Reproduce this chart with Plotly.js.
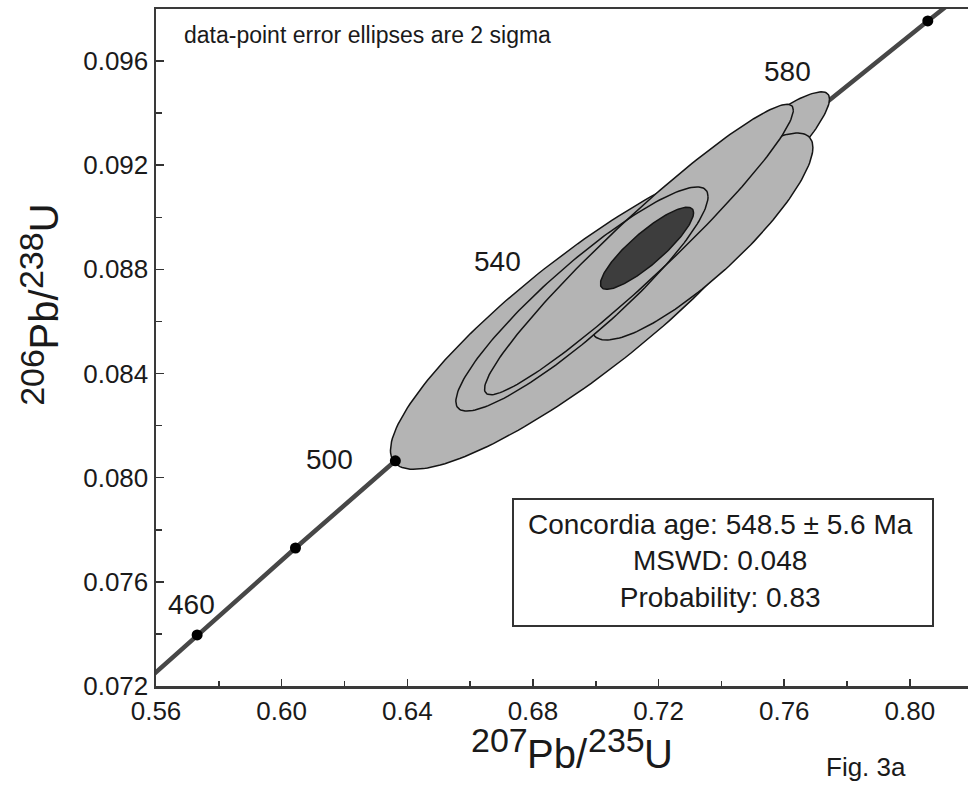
<!DOCTYPE html>
<html>
<head>
<meta charset="utf-8">
<script src="https://cdn.plot.ly/plotly-3.0.1.min.js"></script>
<style>
  html, body { margin: 0; padding: 0; background: #ffffff; }
  #chart { width: 968px; height: 795px; }
</style>
</head>
<body>
<div id="chart"></div>
<script>
// Concordia curve: ages (Ma) and the matching 207Pb/235U and 206Pb/238U ratios
const concAge = [440, 460, 480, 500, 520, 540, 560, 580, 600, 620];
const conc207 = [0.5424, 0.5731, 0.6044, 0.6362, 0.6688, 0.7020, 0.7358, 0.7705, 0.8057, 0.8416];
const conc206 = [0.07064, 0.07396, 0.07730, 0.08065, 0.08401, 0.08738, 0.09075, 0.09414, 0.09754, 0.10096];
const dotAges = [460, 480, 500, 600];
const labelAges = [460, 500, 540, 580];

// Zircon analyses: ratio, 2-sigma error and error correlation (drawing order)
const spot207    = [0.73761, 0.69639, 0.73379, 0.69560, 0.71374];
const spot207Err = [0.03680, 0.06175, 0.03533, 0.04014, 0.04915];
const spot206    = [0.090779, 0.086305, 0.089262, 0.086862, 0.088763];
const spot206Err = [0.004040, 0.005983, 0.003975, 0.004305, 0.005576];
const spotRho    = [0.931, 0.878, 0.860, 0.913, 0.960];

// Concordia age ellipse
const age207 = 0.71632, age207Err = 0.01483;
const age206 = 0.088811, age206Err = 0.001578;
const ageRho = 0.865;
const ageMa = 548.5, ageErrMa = 5.6, mswd = 0.048, probability = 0.83;

// Axis ticks
const xTickVals = [0.56, 0.60, 0.64, 0.68, 0.72, 0.76, 0.80];
const xTickText = ['0.56', '0.60', '0.64', '0.68', '0.72', '0.76', '0.80'];
const yTickVals = [0.072, 0.076, 0.080, 0.084, 0.088, 0.092, 0.096];
const yTickText = ['0.072', '0.076', '0.080', '0.084', '0.088', '0.092', '0.096'];

// Axis title pieces: isotope mass numbers are raised and a little smaller
const xTitleParts = ['207', 'Pb/', '235', 'U'];
const yTitleParts = ['206', 'Pb/', '238', 'U'];

const FONT = 'Liberation Sans, Arial, Helvetica, sans-serif';
const INK = '#1a1a1a';
const GRAY = '#b4b4b4';
const EDGE = '#141414';

// plot area in pixels, used to place the paper-anchored texts
const L = 156, T = 9, W = 812, H = 677;
const px = v => (v - L) / W;
const py = v => (T + H - v) / H;

function ellipsePts(x, sx, y, sy, r, n) {
  const xs = [], ys = [];
  const q = Math.sqrt(1 - r * r);
  for (let i = 0; i <= n; i++) {
    const t = 2 * Math.PI * i / n;
    xs.push(x + sx * Math.cos(t));
    ys.push(y + sy * (r * Math.cos(t) + q * Math.sin(t)));
  }
  return { xs, ys };
}

function ellTrace(i, withFill, withLine) {
  const e = ellipsePts(spot207[i], spot207Err[i], spot206[i], spot206Err[i], spotRho[i], 180);
  return {
    x: e.xs, y: e.ys, type: 'scatter', mode: 'lines',
    fill: withFill ? 'toself' : 'none',
    fillcolor: GRAY,
    line: { color: withLine ? EDGE : 'rgba(0,0,0,0)', width: withLine ? 1.5 : 0 },
    hoverinfo: 'skip', showlegend: false
  };
}

const traces = [];

// concordia line
traces.push({
  x: conc207, y: conc206, type: 'scatter', mode: 'lines',
  line: { color: '#474747', width: 4.5 },
  hoverinfo: 'skip', showlegend: false
});

// analyses: the first three stack normally, the last two share their outlines
[0, 1, 2].forEach(i => traces.push(ellTrace(i, true, true)));
[3, 4].forEach(i => traces.push(ellTrace(i, true, false)));
[3, 4].forEach(i => traces.push(ellTrace(i, false, true)));

// concordia age ellipse
const ae = ellipsePts(age207, age207Err, age206, age206Err, ageRho, 180);
traces.push({
  x: ae.xs, y: ae.ys, type: 'scatter', mode: 'lines', fill: 'toself',
  fillcolor: '#3d3d3d', line: { color: EDGE, width: 1.5 },
  hoverinfo: 'skip', showlegend: false
});

// age markers on the concordia
const dotIdx = dotAges.map(a => concAge.indexOf(a));
traces.push({
  x: dotIdx.map(i => conc207[i]), y: dotIdx.map(i => conc206[i]),
  type: 'scatter', mode: 'markers',
  marker: { color: '#000', size: 11, line: { width: 0 } },
  cliponaxis: false, hoverinfo: 'skip', showlegend: false
});

// age labels placed beside their concordia points
const labelShift = { 460: [-6, 30], 500: [-66, 1], 540: [-105, 24], 580: [-30, 38] };
const annotations = labelAges.map(a => {
  const i = concAge.indexOf(a);
  return {
    x: conc207[i], y: conc206[i], xref: 'x', yref: 'y',
    text: String(a), showarrow: false,
    xshift: labelShift[a][0], yshift: labelShift[a][1],
    font: { family: FONT, size: 28, color: INK }
  };
});

annotations.push({
  xref: 'paper', yref: 'paper', x: px(182), y: py(35), xanchor: 'left', yanchor: 'middle',
  text: 'data-point error ellipses are 2 sigma', showarrow: false,
  font: { family: FONT, size: 23, color: INK }
});

annotations.push({
  xref: 'paper', yref: 'paper', x: px(720), y: py(561), xanchor: 'center', yanchor: 'middle',
  text: 'Concordia age: ' + ageMa.toFixed(1) + ' \u00b1 ' + ageErrMa.toFixed(1) + ' Ma<br>' +
        'MSWD: ' + mswd.toFixed(3) + '<br>Probability: ' + probability.toFixed(2),
  showarrow: false, align: 'center',
  font: { family: FONT, size: 28, color: INK }
});

annotations.push({
  xref: 'paper', yref: 'paper', x: px(866), y: py(767), xanchor: 'center', yanchor: 'middle',
  text: 'Fig. 3a', showarrow: false,
  font: { family: FONT, size: 26, color: INK }
});

// axis titles, laid out piece by piece
const NUM = 34, LET = 40;
const widthEm = s => s.split('').reduce((w, c) => w + (c === '/' ? 0.278 : c === 'P' ? 0.667 : c === 'U' ? 0.722 : 0.556), 0);
function titlePieces(parts, start, dir, numBase, letBase, rotated) {
  let pos = start;
  parts.forEach((p, k) => {
    const isNum = k % 2 === 0;
    const size = isNum ? NUM : LET;
    const w = widthEm(p) * size;
    const mid = pos + dir * w / 2;
    pos += dir * w;
    const across = (isNum ? numBase : letBase) - 0.3465 * size;
    annotations.push({
      xref: 'paper', yref: 'paper',
      x: rotated ? px(across) : px(mid),
      y: rotated ? py(mid) : py(across),
      xanchor: 'center', yanchor: 'middle',
      textangle: rotated ? -90 : 0,
      text: p, showarrow: false,
      font: { family: FONT, size: size, color: INK }
    });
  });
}
titlePieces(xTitleParts, 471, 1, 752, 768, false);
titlePieces(yTitleParts, 406, -1, 43, 58, true);

const layout = {
  width: 968, height: 795,
  margin: { l: L, r: 968 - L - W, t: T, b: 795 - T - H, pad: 0 },
  paper_bgcolor: '#ffffff', plot_bgcolor: '#ffffff',
  showlegend: false,
  font: { family: FONT, color: INK },
  xaxis: {
    range: [0.56, 0.8185], tickmode: 'array', tickvals: xTickVals, ticktext: xTickText,
    ticks: 'inside', ticklen: 7, tickwidth: 1.5, tickcolor: '#333',
    minor: { dtick: 0.02, tick0: 0.56, ticks: 'inside', ticklen: 5, tickwidth: 1.5, tickcolor: '#333', showgrid: false },
    showline: true, linecolor: '#3a3a3a', linewidth: 2.5, mirror: true,
    showgrid: false, zeroline: false,
    tickfont: { family: FONT, size: 26, color: INK }
  },
  yaxis: {
    range: [0.072, 0.098], tickmode: 'array', tickvals: yTickVals, ticktext: yTickText,
    ticks: 'inside', ticklen: 8, tickwidth: 1.5, tickcolor: '#333',
    minor: { dtick: 0.002, tick0: 0.072, ticks: 'inside', ticklen: 6, tickwidth: 1.5, tickcolor: '#333', showgrid: false },
    showline: true, linecolor: '#3a3a3a', linewidth: 2.5, mirror: false,
    showgrid: false, zeroline: false,
    tickfont: { family: FONT, size: 26, color: INK }
  },
  shapes: [{
    type: 'rect', xref: 'paper', yref: 'paper',
    x0: px(513), x1: px(933), y0: py(626), y1: py(499),
    line: { color: '#333', width: 2 }, fillcolor: 'rgba(0,0,0,0)'
  }],
  annotations: annotations
};

Plotly.newPlot('chart', traces, layout, { staticPlot: true, displayModeBar: false });
</script>
</body>
</html>
